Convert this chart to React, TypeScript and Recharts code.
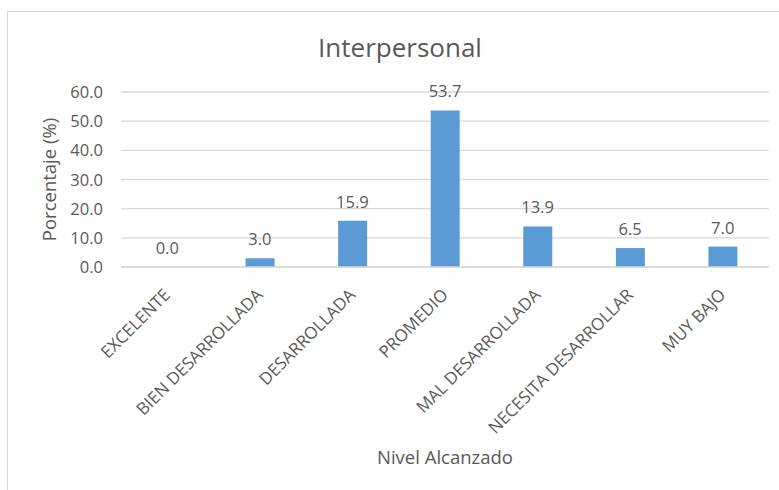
import React from 'react';
import { ComposedChart, Bar, Line, XAxis, YAxis, CartesianGrid, LabelList, Label } from 'recharts';

const categories = [
  'EXCELENTE',
  'BIEN DESARROLLADA',
  'DESARROLLADA',
  'PROMEDIO',
  'MAL DESARROLLADA',
  'NECESITA DESARROLLAR',
  'MUY BAJO',
];
const percentages = [0.0, 3.0, 15.9, 53.7, 13.9, 6.5, 7.0];
const yTicks = [0, 10, 20, 30, 40, 50, 60];
const chartTitle = 'Interpersonal';
const xTitle = 'Nivel Alcanzado';
const yTitle = 'Porcentaje (%)';

const data = categories.map((c, i) => ({ name: c, value: percentages[i] }));

const FONT = '"Open Sans", sans-serif';
const TEXT = '#595959';
const GRID = '#d9d9d9';
const BAR = '#5B9BD5';

function XTick(props: any) {
  const { x, y, payload } = props;
  const tx = x + 4;
  const ty = y + 29;
  return (
    <text
      x={tx}
      y={ty}
      transform={`rotate(-45, ${tx}, ${ty})`}
      textAnchor="end"
      fontFamily={FONT}
      fontSize={17}
      fill={TEXT}
    >
      {payload.value}
    </text>
  );
}

function YTick(props: any) {
  const { x, y, payload } = props;
  return (
    <text x={x} y={y + 6} textAnchor="end" fontFamily={FONT} fontSize={16.5} fill={TEXT}>
      {Number(payload.value).toFixed(1)}
    </text>
  );
}

export default function App() {
  return (
    <div
      style={{
        position: 'fixed',
        left: 0,
        top: 0,
        width: 779,
        height: 490,
        overflow: 'hidden',
        background: '#ffffff',
      }}
    >
      <div
        style={{
          position: 'absolute',
          left: 7,
          top: 11,
          width: 820,
          height: 540,
          border: `1px solid ${GRID}`,
          boxSizing: 'border-box',
        }}
      />
      <div style={{ position: 'absolute', left: 0, top: 0 }}>
        <ComposedChart
          width={779}
          height={490}
          data={data}
          margin={{ top: 92, right: 10, bottom: 0, left: 0 }}
          barCategoryGap={0}
        >
          <CartesianGrid horizontal vertical={false} stroke={GRID} strokeWidth={1.3} />
          <XAxis
            dataKey="name"
            interval={0}
            height={223}
            tickLine={false}
            tickSize={0}
            tickMargin={0}
            axisLine={{ stroke: GRID, strokeWidth: 1.3 }}
            tick={<XTick />}
          >
            <Label
              content={(p: any) => {
                const vb = p.viewBox || { x: 121, width: 648 };
                const cx = vb.x + vb.width / 2;
                return (
                  <text x={cx} y={464} textAnchor="middle" fontFamily={FONT} fontSize={18.5} fill={TEXT}>
                    {xTitle}
                  </text>
                );
              }}
            />
          </XAxis>
          <YAxis
            width={121}
            domain={[0, 60]}
            ticks={yTicks}
            interval={0}
            tickLine={false}
            axisLine={false}
            tickSize={0}
            tickMargin={18}
            tick={<YTick />}
          >
            <Label
              content={(p: any) => {
                const vb = p.viewBox || { y: 92, height: 175 };
                const cy = vb.y + vb.height / 2;
                return (
                  <text
                    x={56}
                    y={cy}
                    transform={`rotate(-90, 56, ${cy})`}
                    textAnchor="middle"
                    fontFamily={FONT}
                    fontSize={18.5}
                    fill={TEXT}
                  >
                    {yTitle}
                  </text>
                );
              }}
            />
          </YAxis>
          <Bar dataKey="value" fill={BAR} barSize={29} isAnimationActive={false} />
          <Line
            dataKey="value"
            stroke="none"
            dot={false}
            activeDot={false}
            legendType="none"
            isAnimationActive={false}
          >
            <LabelList
              dataKey="value"
              position="top"
              offset={13}
              formatter={(v: any) => Number(v).toFixed(1)}
              style={{ fontFamily: FONT, fontSize: 16.5, fill: TEXT }}
            />
          </Line>
        </ComposedChart>
      </div>
      <svg
        width={779}
        height={90}
        style={{ position: 'absolute', left: 0, top: 0, pointerEvents: 'none' }}
      >
        <text x={400} y={57} textAnchor="middle" fontFamily={FONT} fontSize={26} fill={TEXT}>
          {chartTitle}
        </text>
      </svg>
    </div>
  );
}
